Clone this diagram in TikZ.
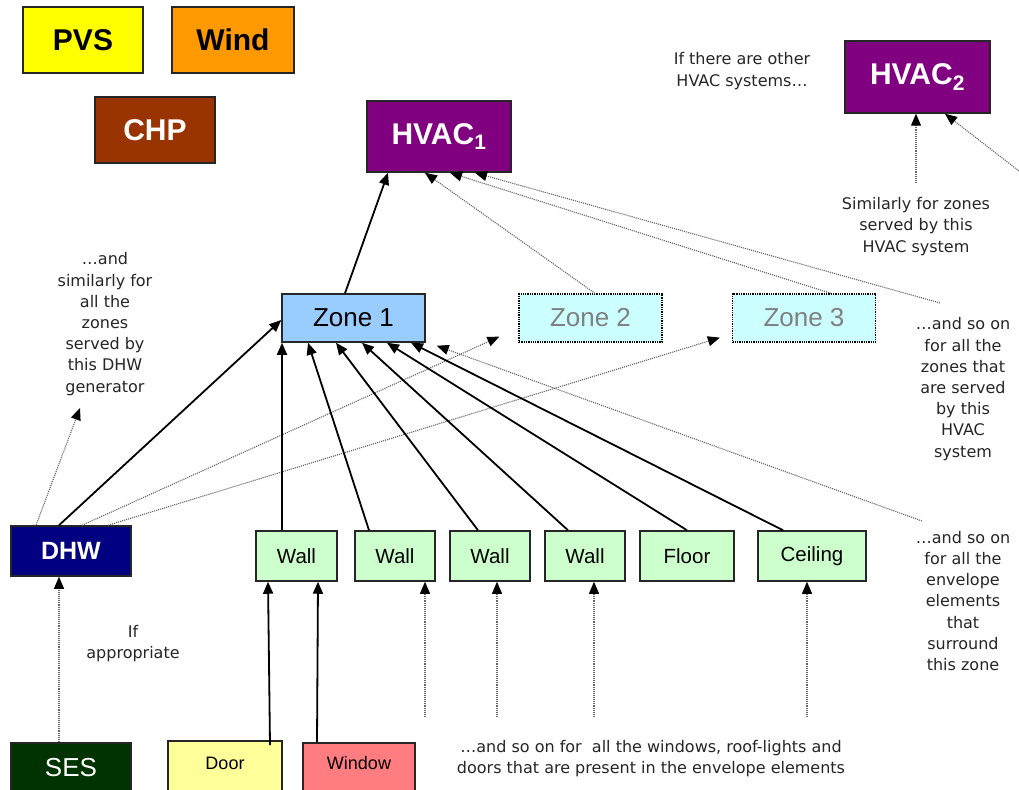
\documentclass[tikz,border=0pt]{standalone}
\usepackage{fontspec}
\setmainfont{Liberation Sans}
\newfontfamily\notefont{DejaVu Sans}
\usetikzlibrary{arrows.meta}

\definecolor{pvsyellow}{HTML}{FFFF00}
\definecolor{windorange}{HTML}{FF9900}
\definecolor{chpbrown}{HTML}{993300}
\definecolor{hvacpurple}{HTML}{800080}
\definecolor{zoneblue}{HTML}{99CCFF}
\definecolor{zonecyan}{HTML}{CCFFFF}
\definecolor{dhwnavy}{HTML}{000080}
\definecolor{sesgreen}{HTML}{003300}
\definecolor{doorcream}{HTML}{FFFF99}
\definecolor{windowpink}{HTML}{FF7C80}
\definecolor{elemgreen}{HTML}{CCFFCC}

\begin{document}
\begin{tikzpicture}[x=1pt,y=-1pt,
  box/.style={draw=black!85, line width=1.5pt, inner sep=0pt, align=center},
  bigbold/.style={font=\bfseries\fontsize{30}{36}\selectfont},
  zonebox/.style={box, minimum width=143pt, minimum height=48pt, font=\fontsize{26}{30}\selectfont},
  ghostzone/.style={zonebox, fill=zonecyan, draw=black, line width=1.3pt, densely dotted, text=black!50},
  elem/.style={box, fill=elemgreen, minimum height=50pt, font=\fontsize{20.5}{24}\selectfont},
  cutbox/.style={box, anchor=north, inner ysep=0pt},
  note/.style={font=\notefont\fontsize{16}{21.2}\selectfont, align=center, inner sep=0pt, text=black!85},
  link/.style={line width=1.8pt, draw=black, -{Triangle[length=12pt,width=10pt]}},
  hint/.style={line width=1.1pt, densely dotted, draw=black!60, -{Triangle[length=12pt,width=10pt,color=black]}}
]
\useasboundingbox (0,0) rectangle (1019,789);
\clip (0,0) rectangle (1019,789);
\fill[white] (0,0) rectangle (1019,789);

% energy sources
\node[box, bigbold, fill=pvsyellow, minimum width=120pt, minimum height=66pt] (pvs) at (83,40) {PVS};
\node[box, bigbold, fill=windorange, minimum width=122pt, minimum height=66pt] (wind) at (233,40) {Wind};
\node[box, bigbold, fill=chpbrown, text=white, minimum width=120pt, minimum height=66pt] (chp) at (155,130) {CHP};

% HVAC systems
\node[box, bigbold, fill=hvacpurple, text=white, minimum width=144pt, minimum height=71pt] (hvacA) at (439,136.5) {HVAC\textsubscript{1}};
\node[box, bigbold, fill=hvacpurple, text=white, minimum width=145pt, minimum height=72pt] (hvacB) at (917.5,77) {HVAC\textsubscript{2}};
\node[note] (otherhvac) at (742,71) {If there are other\\HVAC systems\dots};
\node[note] (simhvac) at (916,226.5) {Similarly for zones\\served by this\\HVAC system};

% zones
\node[zonebox, fill=zoneblue] (zoneA) at (353.5,318) {Zone 1};
\node[ghostzone] (zoneB) at (590.5,318) {Zone 2};
\node[ghostzone] (zoneC) at (804,318) {Zone 3};

% hot water
\node[box, fill=dhwnavy, text=white, minimum width=120pt, minimum height=50pt, font=\bfseries\fontsize{25}{30}\selectfont] (dhw) at (71,551) {DHW};
\node[cutbox, fill=sesgreen, text=white, minimum width=120pt, text height=34pt, text depth=16pt, font=\fontsize{26}{30}\selectfont] (ses) at (71,742) {SES};

% envelope elements
\node[elem, minimum width=81pt] (wallA) at (296.5,556) {Wall};
\node[elem, minimum width=80pt] (wallB) at (395,556) {Wall};
\node[elem, minimum width=80pt] (wallC) at (490,556) {Wall};
\node[elem, minimum width=80pt] (wallD) at (585,556) {Wall};
\node[elem, minimum width=94pt] (floor) at (687,556) {Floor};
\node[elem, minimum width=108pt] (ceiling) at (812,556) {Ceiling};

% openings
\node[cutbox, fill=doorcream, minimum width=114pt, text height=28.5pt, text depth=23.5pt, font=\fontsize{18}{22}\selectfont] (door) at (225,740) {Door};
\node[cutbox, fill=windowpink, minimum width=112pt, text height=26.5pt, text depth=23.5pt, font=\fontsize{18}{22}\selectfont] (window) at (359,742) {Window};

% explanatory notes
\node[note] (dhwnote) at (105,324) {\dots and\\similarly for\\all the\\zones\\served by\\this DHW\\generator};
\node[note] (approp) at (133,643.5) {If\\appropriate};
\node[note] (zonenote) at (963,389) {\dots and so on\\for all the\\zones that\\are served\\by this\\HVAC\\system};
\node[note] (elemnote) at (963,601) {\dots and so on\\for all the\\envelope\\elements\\that\\surround\\this zone};
\node[note] (opennote) at (651,758.5) {\dots and so on for\ \ all the windows, roof-lights and\\doors that are present in the envelope elements};

% free ends of the dotted connectors
\coordinate (zmore) at (940,303);
\coordinate (emore) at (922,521);
\coordinate (dhwmore) at (80,408);
\coordinate (hvbmore) at (916,183);
\coordinate (hvbedge) at (1019,171);
\coordinate (oB) at (425,717);
\coordinate (oC) at (497,717);
\coordinate (oD) at (594,717);
\coordinate (oE) at (807,717);

% zones to HVAC 1
\draw[link] ([xshift=-8.5pt]zoneA.north) -- ([xshift=-51pt]hvacA.south);
\draw[hint] ([xshift=4.5pt]zoneB.north) -- ([xshift=-14pt]hvacA.south);
\draw[hint] ([xshift=27pt]zoneC.north) -- ([xshift=11pt]hvacA.south);
\draw[hint] (zmore) -- ([xshift=36pt]hvacA.south);

% zones to HVAC 2
\draw[hint] (hvbmore) -- ([xshift=-1.5pt]hvacB.south);
\draw[hint] (hvbedge) -- ([xshift=27.5pt]hvacB.south);

% DHW to zones
\draw[hint] ([xshift=-35pt]dhw.north) -- (dhwmore);
\draw[link] ([xshift=-12pt]dhw.north) -- ([yshift=-2pt]zoneA.west);
\draw[hint] ([xshift=11pt]dhw.north) -- ([xshift=-19pt,yshift=6pt]zoneB.south west);
\draw[hint] ([xshift=37pt]dhw.north) -- ([xshift=-12pt,yshift=5pt]zoneC.south west);
\draw[hint] ([xshift=-12pt]ses.north) -- ([xshift=-12pt]dhw.south);

% envelope elements to zone 1
\draw[link] ([xshift=-14.5pt]wallA.north) -- ([xshift=-71.5pt]zoneA.south);
\draw[link] ([xshift=-26pt]wallB.north) -- ([xshift=-45.5pt]zoneA.south);
\draw[link] ([xshift=-12pt]wallC.north) -- ([xshift=-17.5pt]zoneA.south);
\draw[link] ([xshift=-17pt]wallD.north) -- ([xshift=8.5pt]zoneA.south);
\draw[link] (floor.north) -- ([xshift=33.5pt]zoneA.south);
\draw[link] ([xshift=-29pt]ceiling.north) -- ([xshift=57.5pt]zoneA.south);
\draw[hint] (emore) -- ([xshift=11pt,yshift=-3pt]zoneA.south east);

% openings to walls
\draw[link] ([xshift=45pt,yshift=-5pt]door.north) -- ([xshift=-28.5pt]wallA.south);
\draw[link] ([xshift=-42pt]window.north) -- ([xshift=21.5pt]wallA.south);
\draw[hint] (oB) -- ([xshift=30pt]wallB.south);
\draw[hint] (oC) -- ([xshift=7pt]wallC.south);
\draw[hint] (oD) -- ([xshift=9pt]wallD.south);
\draw[hint] (oE) -- ([xshift=-5pt]ceiling.south);
\end{tikzpicture}
\end{document}
